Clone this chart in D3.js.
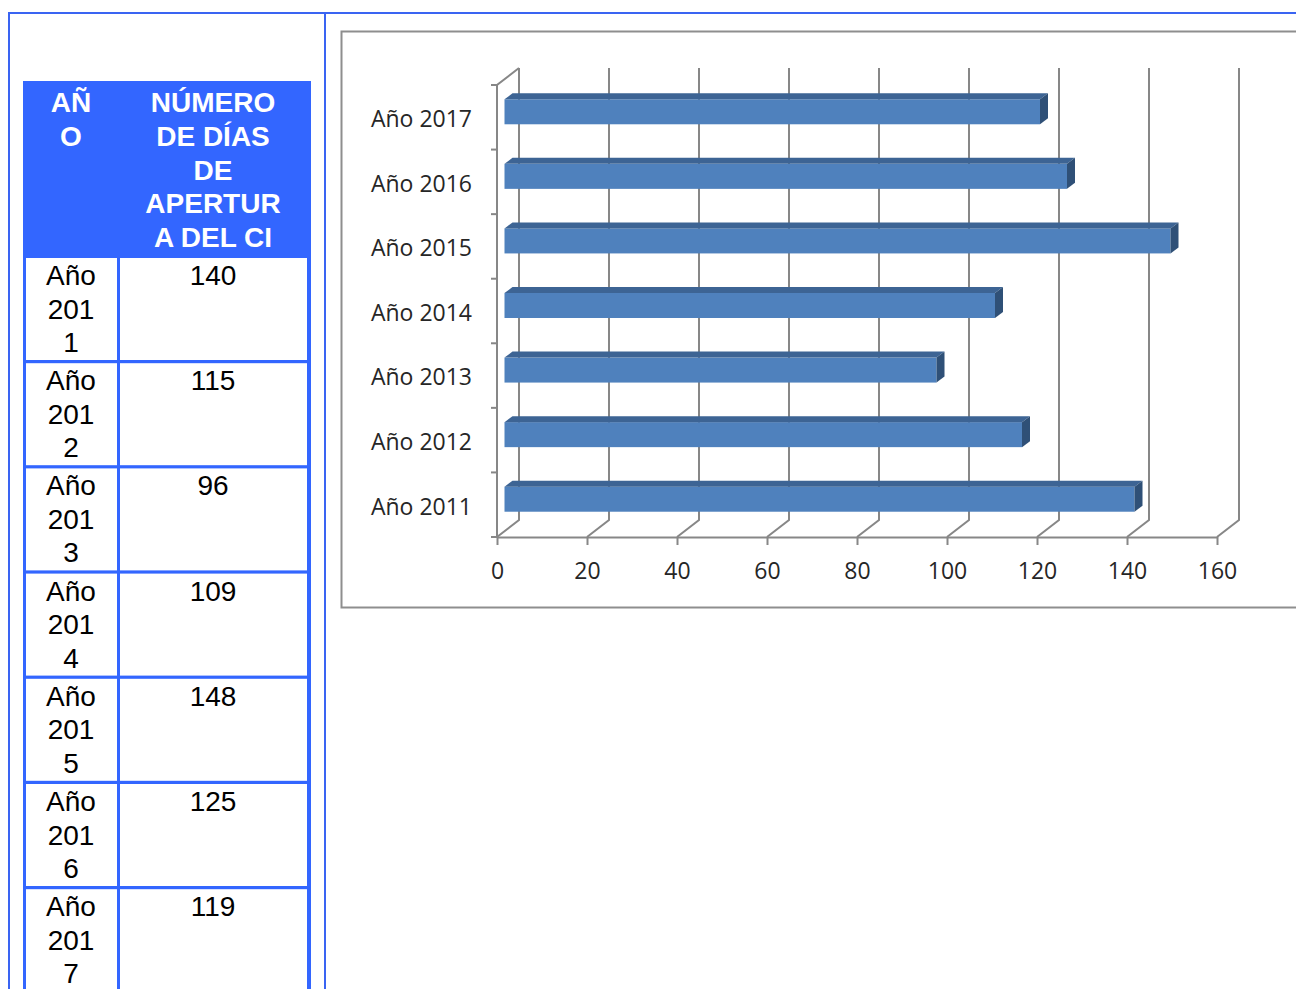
<!DOCTYPE html>
<html>
<head>
<meta charset="utf-8">
<title>Días de apertura del CI</title>
<script src="https://d3js.org/d3.v7.min.js"></script>
<style>
    body { margin: 0; background: #fff; }
    svg { display: block; }
    .tabla text { font-family: "Liberation Sans", Arial, sans-serif; font-size: 28px; text-anchor: middle; fill: #000; }
    .tabla .cab text { fill: #fff; font-weight: bold; }
    .axis text { font-family: "Open Sans", sans-serif; font-size: 23px; fill: #262626; }
    .axis path, .axis line { stroke: #878787; stroke-width: 2; fill: none; }
</style>
</head>
<body>
<script>
// data
var years = ["Año 2011", "Año 2012", "Año 2013", "Año 2014", "Año 2015", "Año 2016", "Año 2017"];
var days = [140, 115, 96, 109, 148, 125, 119];
var xTicks = [0, 20, 40, 60, 80, 100, 120, 140, 160];
var headYear = ["AÑ", "O"];
var headDays = ["NÚMERO", "DE DÍAS", "DE", "APERTUR", "A DEL CI"];

var width = 1296, height = 989;
var blue = "#3366ff";

var svg = d3.select("body").append("svg")
    .attr("width", width)
    .attr("height", height);

// page frame lines
svg.append("path")
    .attr("d", "M8,13H1296M9,12V989M325,12V989")
    .style("stroke", "#3a64f2")
    .style("stroke-width", 2)
    .style("fill", "none");

// ---- table on the left ----
var tabla = svg.append("g").attr("class", "tabla");
var rowTop = 258, rowStep = 105.2, rowH = 102;

tabla.append("rect")
    .attr("x", 23).attr("y", 81)
    .attr("width", 288).attr("height", height - 81 + 10)
    .style("fill", blue);

var cab = tabla.append("g").attr("class", "cab");
cab.selectAll("text.a").data(headYear).enter().append("text")
    .attr("class", "a")
    .attr("x", 71)
    .attr("y", function (d, i) { return 112 + i * 34; })
    .text(function (d) { return d; });
cab.selectAll("text.b").data(headDays).enter().append("text")
    .attr("class", "b")
    .attr("x", 213)
    .attr("y", function (d, i) { return 112 + i * 33.8; })
    .text(function (d) { return d; });

var rows = tabla.selectAll("g.row")
    .data(years.map(function (y, i) { return { label: y, value: days[i] }; }))
    .enter().append("g")
    .attr("class", "row")
    .attr("transform", function (d, i) { return "translate(0," + (rowTop + i * rowStep) + ")"; });

rows.append("rect")
    .attr("x", 26).attr("y", 0).attr("width", 91).attr("height", rowH)
    .style("fill", "#fff");
rows.append("rect")
    .attr("x", 120).attr("y", 0).attr("width", 187).attr("height", rowH)
    .style("fill", "#fff");

rows.each(function (d) {
    var parts = d.label.split(" ");
    var lines = [parts[0], parts[1].slice(0, 3), parts[1].slice(3)];
    d3.select(this).selectAll("text.y").data(lines).enter().append("text")
        .attr("class", "y")
        .attr("x", 71)
        .attr("y", function (t, i) { return 27 + i * 33.5; })
        .text(function (t) { return t; });
});
rows.append("text")
    .attr("x", 213)
    .attr("y", 27)
    .text(function (d) { return d.value; });

// ---- 3D bar chart ----
svg.append("rect")
    .attr("x", 341.5).attr("y", 31.5)
    .attr("width", 1000).attr("height", 576)
    .style("fill", "#fff")
    .style("stroke", "#8e8e8e")
    .style("stroke-width", 2);

var x = d3.scaleLinear().domain([0, 160]).range([497, 1217]);
var y = d3.scaleBand().domain(years.slice().reverse()).range([85, 537]);
var floorY = 537, topY = 85;
var dx = 22, dy = -17;          // depth of walls
var bx = 7.5, by = -5.5;        // bar front plane offset
var bd = 8, bdy = -6, bh = 25;  // bar depth and height

var walls = svg.append("g").attr("class", "axis");
// back wall gridlines + floor diagonals
walls.selectAll("path.grid").data(xTicks).enter().append("path")
    .attr("class", "grid")
    .attr("d", function (t) {
        var xf = x(t);
        return "M" + xf + "," + floorY + "L" + (xf + dx) + "," + (floorY + dy) + "V" + (topY + dy);
    });
// left wall
walls.append("path")
    .attr("d", "M" + x(0) + "," + floorY + "V" + topY + "L" + (x(0) + dx) + "," + (topY + dy));
// category boundary ticks
walls.selectAll("line.yt").data(d3.range(years.length + 1)).enter().append("line")
    .attr("class", "yt")
    .attr("x1", x(0) - 6).attr("x2", x(0))
    .attr("y1", function (i) { return topY + i * y.step(); })
    .attr("y2", function (i) { return topY + i * y.step(); });

svg.append("g")
    .attr("class", "axis")
    .attr("transform", "translate(0," + floorY + ")")
    .call(d3.axisBottom(x).tickValues(xTicks).tickSize(8).tickSizeOuter(0).tickPadding(18));

var yAxis = svg.append("g")
    .attr("class", "axis")
    .attr("transform", "translate(" + x(0) + ",2.5)")
    .call(d3.axisLeft(y).tickSize(0).tickPadding(25));
yAxis.select(".domain").remove();

// bars
var bars = svg.selectAll("g.bar")
    .data(years.map(function (y, i) { return { label: y, value: days[i] }; }))
    .enter().append("g")
    .attr("class", "bar");

function geo(d) {
    var x0 = x(0) + bx, x1 = x(d.value) + bx;
    var yc = y(d.label) + y.bandwidth() / 2 + by;
    return { x0: x0, x1: x1, yt: yc - bh / 2, yb: yc + bh / 2 };
}

bars.append("rect")
    .attr("x", function (d) { return geo(d).x0; })
    .attr("y", function (d) { return geo(d).yt; })
    .attr("width", function (d) { var g = geo(d); return g.x1 - g.x0; })
    .attr("height", bh)
    .style("fill", "#4f81bd");

bars.append("path")
    .attr("d", function (d) {
        var g = geo(d);
        return "M" + g.x0 + "," + g.yt + "L" + (g.x0 + bd) + "," + (g.yt + bdy) +
            "H" + (g.x1 + bd) + "L" + g.x1 + "," + g.yt + "Z";
    })
    .style("fill", "#3d6494");

bars.append("path")
    .attr("d", function (d) {
        var g = geo(d);
        return "M" + g.x1 + "," + g.yt + "L" + (g.x1 + bd) + "," + (g.yt + bdy) +
            "V" + (g.yb + bdy) + "L" + g.x1 + "," + g.yb + "Z";
    })
    .style("fill", "#2f5077");
</script>
</body>
</html>
